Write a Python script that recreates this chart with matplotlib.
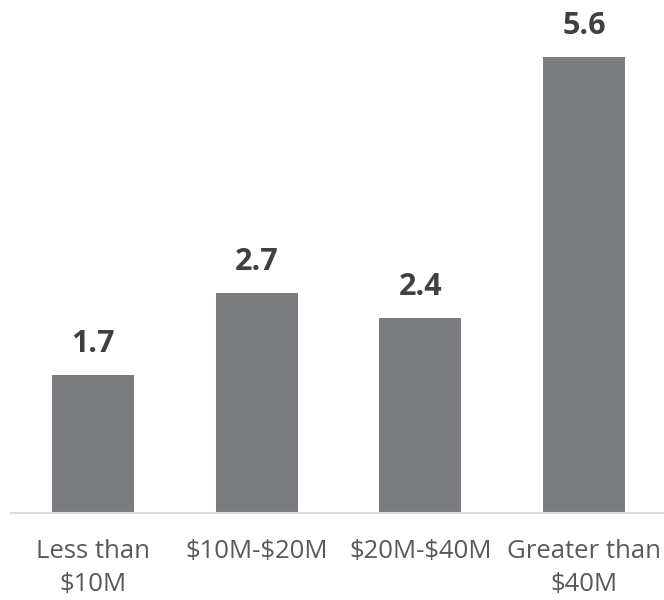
import matplotlib
matplotlib.use("Agg")
import matplotlib.pyplot as plt

categories = ["Less than\n$10M", "$10M-$20M", "$20M-$40M", "Greater than\n$40M"]
values = [1.7, 2.7, 2.4, 5.6]

plt.rcParams['font.family'] = ['Open Sans', 'DejaVu Sans']
plt.rcParams['text.parse_math'] = False

fig = plt.figure(figsize=(6.64, 6.0), dpi=100)
ax = fig.add_axes([11 / 664, (600 - 513) / 600, 655 / 664, 513 / 600])

x = range(len(categories))
ax.bar(x, values, width=0.5, color="#7b7c80", zorder=2)

for xi, v in zip(x, values):
    ax.annotate(f"{v:.1f}", (xi, v), xytext=(0, 16.5), textcoords="offset points",
                ha="center", va="baseline", fontsize=22, fontweight="bold", color="#404040")

ax.set_xlim(-0.5, 3.5)
ax.set_ylim(0, 6.3)
ax.set_xticks(list(x))
ax.set_xticklabels(categories, fontsize=18.5, color="#595959", linespacing=1.4)
ax.tick_params(axis="x", length=0, pad=19)
ax.set_yticks([])
for s in ["top", "right", "left"]:
    ax.spines[s].set_visible(False)
ax.spines["bottom"].set_color("#d9d9d9")
ax.spines["bottom"].set_linewidth(1.5)
ax.patch.set_alpha(0)

fig.savefig("out.png", dpi=100)
